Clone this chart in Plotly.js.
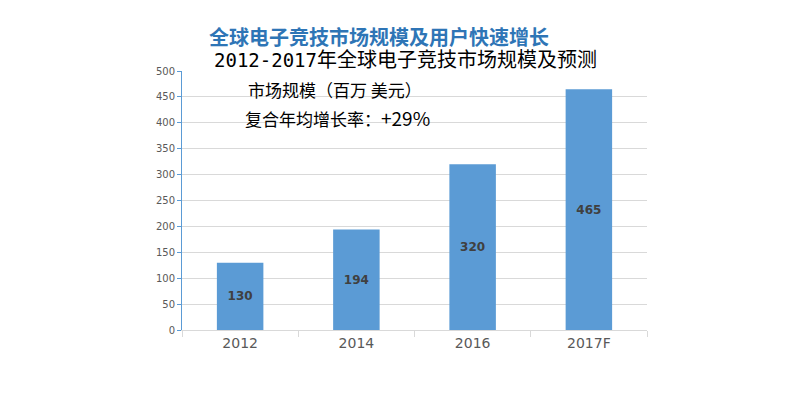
<!DOCTYPE html>
<html>
<head>
<meta charset="utf-8">
<script src="https://cdn.plot.ly/plotly-3.0.1.min.js"></script>
<style>html,body{margin:0;padding:0;background:#fff;}#chart{width:799px;height:399px;}</style>
</head>
<body>
<div id="chart"></div>
<script>
const categories = ["2012", "2014", "2016", "2017F"];
const marketSize = [130, 194, 320, 465];
const yTicks = [0, 50, 100, 150, 200, 250, 300, 350, 400, 450, 500];

const cjk = '"Noto Sans CJK SC", "DejaVu Sans", sans-serif';

const trace = {
  type: 'bar',
  x: categories,
  y: marketSize,
  text: marketSize.map(String),
  textposition: 'inside',
  insidetextanchor: 'middle',
  textangle: 0,
  textfont: {family: '"DejaVu Sans", sans-serif', size: 12, color: '#404040', weight: 'bold'},
  marker: {color: '#5b9bd5'},
  width: 0.4,
  hoverinfo: 'none'
};

const layout = {
  width: 799, height: 399,
  margin: {l: 182, r: 152, t: 71, b: 69},
  paper_bgcolor: '#ffffff', plot_bgcolor: '#ffffff',
  showlegend: false,
  xaxis: {
    type: 'category',
    tickson: 'boundaries',
    ticks: 'outside', ticklen: 6, tickcolor: '#d9d9d9',
    showline: true, linecolor: '#d9d9d9', linewidth: 1,
    showgrid: false,
    tickfont: {family: '"DejaVu Sans", sans-serif', size: 14, color: '#595959'}
  },
  yaxis: {
    range: [0, 500],
    tickvals: yTicks,
    ticks: 'outside', ticklen: 4, tickcolor: '#5b9bd5',
    showline: true, linecolor: '#5b9bd5', linewidth: 1,
    showgrid: true, gridcolor: '#d9d9d9', gridwidth: 1,
    zeroline: false,
    tickfont: {family: '"DejaVu Sans", sans-serif', size: 10, color: '#595959'}
  },
  annotations: [
    {text: '全球电子竞技市场规模及用户快速增长', xref: 'paper', yref: 'paper', x: 0.4226, y: 1.135,
     xanchor: 'center', yanchor: 'middle', showarrow: false,
     font: {family: cjk, size: 20, color: '#2e75b6', weight: 'bold'}},
    {text: '<span style="font-family:\'DejaVu Sans Mono\', monospace;font-size:19px">2012-2017</span>年全球电子竞技市场规模及预测',
     xref: 'paper', yref: 'paper', x: 0.4796, y: 1.048,
     xanchor: 'center', yanchor: 'middle', showarrow: false,
     font: {family: cjk, size: 20, color: '#000000'}},
    {text: '市场规模（百万 美元）', xref: 'paper', yref: 'paper', x: 0.329, y: 0.9305,
     xanchor: 'center', yanchor: 'middle', showarrow: false,
     font: {family: cjk, size: 17, color: '#000000'}},
    {text: '复合年均增长率：<span style="font-size:19px">+29%</span>', xref: 'paper', yref: 'paper', x: 0.334, y: 0.822,
     xanchor: 'center', yanchor: 'middle', showarrow: false,
     font: {family: cjk, size: 17, color: '#000000'}}
  ]
};

Plotly.newPlot('chart', [trace], layout, {staticPlot: true, displayModeBar: false});
</script>
</body>
</html>
